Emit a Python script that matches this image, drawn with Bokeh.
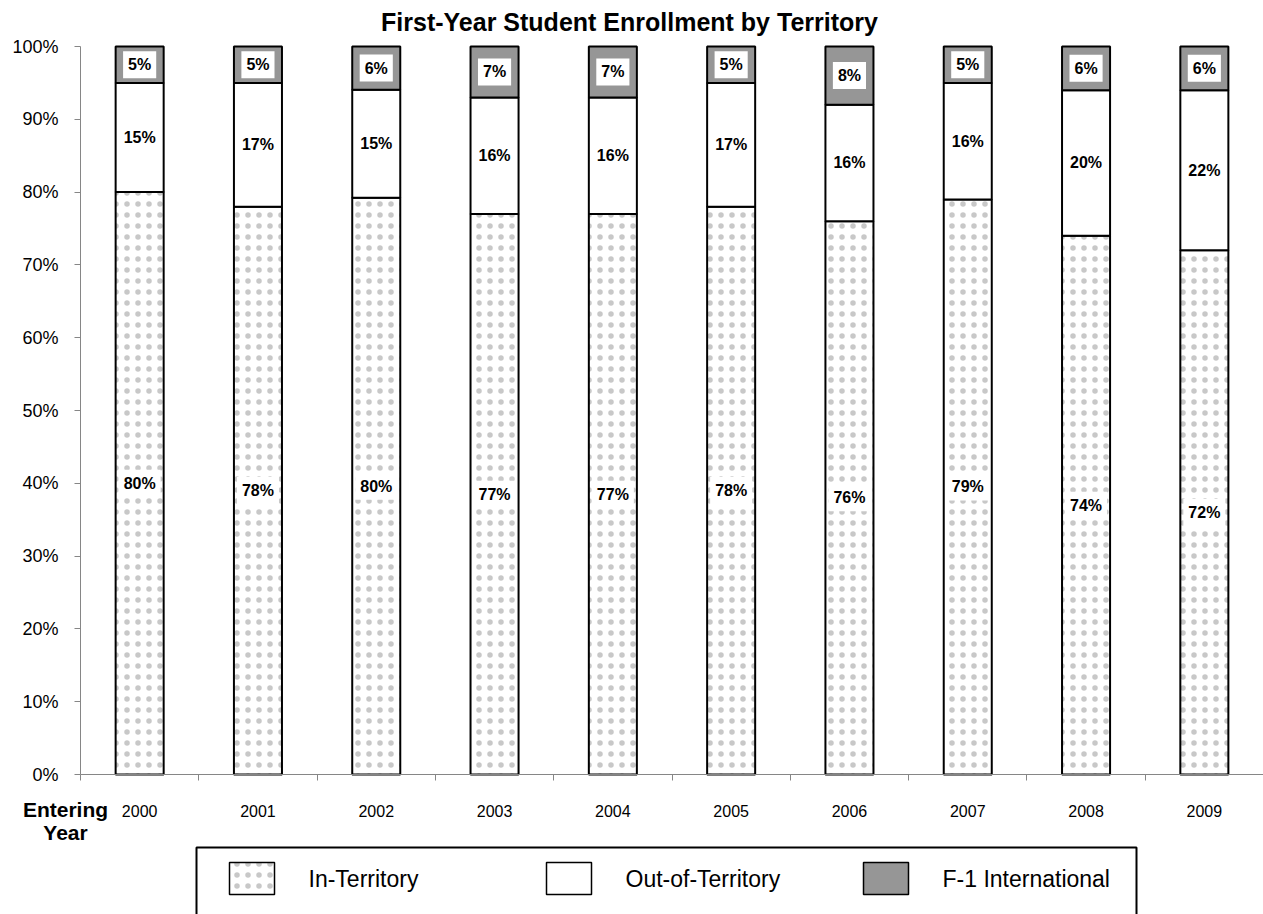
from bokeh.plotting import figure
from bokeh.models import ColumnDataSource, Range1d, FixedTicker
from bokeh.core.properties import value
from bokeh.embed import file_html
from bokeh.resources import INLINE

# ---- data -------------------------------------------------------------
years = ["2000", "2001", "2002", "2003", "2004", "2005", "2006", "2007", "2008", "2009"]
in_territory = [80, 78, 80, 77, 77, 78, 76, 79, 74, 72]
out_territory = [15, 17, 15, 16, 16, 17, 16, 16, 20, 22]
f1_international = [5, 5, 6, 7, 7, 5, 8, 5, 6, 6]
series_names = ["In-Territory", "Out-of-Territory", "F-1 International"]
pct_ticks = [0, 10, 20, 30, 40, 50, 60, 70, 80, 90, 100]
pct_tick_labels = ["0%", "10%", "20%", "30%", "40%", "50%", "60%", "70%", "80%", "90%", "100%"]
title_text = "First-Year Student Enrollment by Territory"
x_title = ["Entering", "Year"]

FONT = "Liberation Sans"
GREY = "#969696"
AXIS_GREY = "#868686"
DOT_GREY = "#c8c8c8"

# ---- page geometry (pixels) -------------------------------------------
W, H = 1263, 914
AX_LEFT, AX_TOP, AX_BOTTOM = 80, 46, 774     # plotting area of the bars
N = len(years)
PX_PER_X = (W - AX_LEFT) / N
PX_PER_PCT = (AX_BOTTOM - AX_TOP) / 100


def dx(px):
    """horizontal page pixel -> data x"""
    return (px - AX_LEFT) / PX_PER_X


def dy(py):
    """vertical page pixel -> data y (percent)"""
    return (AX_BOTTOM - py) / PX_PER_PCT


# 100% stacked: each year is scaled to its own total
xs, in_top, out_top, f1_top = [], [], [], []
in_mid, out_mid, f1_mid = [], [], []
for i in range(N):
    tot = in_territory[i] + out_territory[i] + f1_international[i]
    a = in_territory[i] / tot * 100
    b = out_territory[i] / tot * 100
    c = f1_international[i] / tot * 100
    xs.append(i + 0.5)
    in_top.append(a)
    out_top.append(a + b)
    f1_top.append(a + b + c)
    in_mid.append(a / 2)
    out_mid.append(a + b / 2)
    f1_mid.append(a + b + c / 2)

src = ColumnDataSource(dict(
    x=xs, zero=[0] * N, in_top=in_top, out_top=out_top, f1_top=f1_top,
    in_mid=in_mid, out_mid=out_mid, f1_mid=f1_mid,
    in_lbl=[f"{v}%" for v in in_territory],
    out_lbl=[f"{v}%" for v in out_territory],
    f1_lbl=[f"{v}%" for v in f1_international],
))

# the frame covers the whole page; the axes are pinned at x=0 / y=0
p = figure(width=W, height=H, output_backend="svg", toolbar_location=None,
           x_range=Range1d(dx(0), dx(W)), y_range=Range1d(dy(H), dy(0)),
           min_border=0, min_border_left=0, min_border_right=0,
           min_border_top=0, min_border_bottom=0)
p.outline_line_color = None
p.grid.visible = False
p.background_fill_color = "white"
p.border_fill_color = "white"

BAR_W = 0.406
bar_line = dict(line_color="black", line_width=2)
dots = dict(hatch_pattern="dot", hatch_color=DOT_GREY, hatch_scale=11, hatch_weight=0.8)
p.vbar(x="x", width=BAR_W, bottom="zero", top="in_top", source=src,
       fill_color="white", **dots, **bar_line)
p.vbar(x="x", width=BAR_W, bottom="in_top", top="out_top", source=src,
       fill_color="white", **bar_line)
p.vbar(x="x", width=BAR_W, bottom="out_top", top="f1_top", source=src,
       fill_color=GREY, **bar_line)

txt = dict(source=src, text_font=value(FONT), text_font_style="bold",
           text_font_size="16px", text_align="center", text_baseline="middle",
           text_color="black", background_fill_color="white", padding=5)
p.text(x="x", y="in_mid", text="in_lbl", **txt)
p.text(x="x", y="out_mid", text="out_lbl", **txt)
p.text(x="x", y="f1_mid", text="f1_lbl", **txt)

# x axis: year labels centred in each slot, ticks on slot boundaries
xa = p.xaxis[0]
xa.fixed_location = 0
xa.bounds = (0, N)
xa.ticker = FixedTicker(ticks=xs, minor_ticks=list(range(N + 1)))
xa.major_label_overrides = {x: y for x, y in zip(xs, years)}
xa.major_tick_out = 0
xa.major_tick_in = 0
xa.minor_tick_out = 6
xa.minor_tick_in = 0
xa.minor_tick_line_color = AXIS_GREY
xa.axis_line_color = AXIS_GREY
xa.major_label_standoff = 24
xa.major_label_text_font = FONT
xa.major_label_text_font_size = "16px"
xa.major_label_text_color = "black"

ya = p.yaxis[0]
ya.fixed_location = 0
ya.bounds = (0, 100)
ya.ticker = FixedTicker(ticks=pct_ticks)
ya.major_label_overrides = dict(zip(pct_ticks, pct_tick_labels))
ya.major_tick_out = 6
ya.major_tick_in = 0
ya.minor_tick_out = 0
ya.minor_tick_in = 0
ya.major_tick_line_color = AXIS_GREY
ya.axis_line_color = AXIS_GREY
ya.major_label_standoff = 16
ya.major_label_text_font = FONT
ya.major_label_text_font_size = "18px"
ya.major_label_text_color = "black"

# chart title and the x-axis caption
p.text(x=[dx(629)], y=[dy(21)], text=[title_text], text_font=value(FONT),
       text_font_style="bold", text_font_size="25px", text_align="center",
       text_baseline="middle", text_color="black")
p.text(x=[dx(65)] * 2, y=[dy(809), dy(832)], text=x_title, text_font=value(FONT),
       text_font_style="bold", text_font_size="21px", text_align="center",
       text_baseline="middle", text_color="black")

# legend box along the bottom edge
p.quad(left=[dx(196)], right=[dx(1136)], top=[dy(847)], bottom=[dy(H + 12)],
       fill_color=None, line_color="black", line_width=2)
sw_left = [229, 546, 863]
SW_W, SW_TOP, SW_H, TXT_GAP = 45, 862, 32, 79
sw = dict(line_color="black", line_width=1.5)
swatch_fill = [dict(fill_color="white", **dots), dict(fill_color="white"),
               dict(fill_color=GREY)]
for l, style in zip(sw_left, swatch_fill):
    p.quad(left=[dx(l)], right=[dx(l + SW_W)], top=[dy(SW_TOP)],
           bottom=[dy(SW_TOP + SW_H)], **style, **sw)
p.text(x=[dx(l + TXT_GAP) for l in sw_left], y=[dy(SW_TOP + SW_H / 2)] * 3,
       text=series_names, text_font=value(FONT), text_font_size="23px",
       text_align="left", text_baseline="middle", text_color="black")

open("out.html", "w").write(file_html(p, INLINE))
